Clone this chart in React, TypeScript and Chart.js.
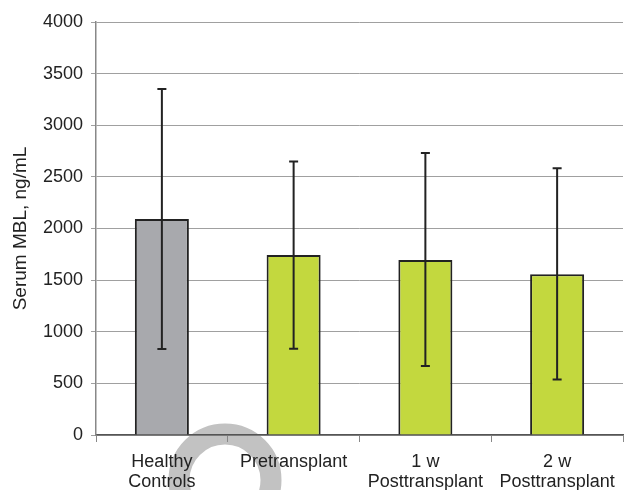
import React, { useEffect, useRef } from "react";
import { Chart, registerables } from "chart.js";

Chart.register(...registerables);

const categories: string[][] = [["Healthy", "Controls"], ["Pretransplant"], ["1 w", "Posttransplant"], ["2 w", "Posttransplant"]];
const means: number[] = [2092, 1743, 1695, 1557];
const errLow: number[] = [833, 835, 668, 538];
const errHigh: number[] = [3351, 2650, 2731, 2584];
const barColors: string[] = ["#a8a9ad", "#c3d83e", "#c3d83e", "#c3d83e"];
const yTicks: number[] = [0, 500, 1000, 1500, 2000, 2500, 3000, 3500, 4000];

const FONT = "'Liberation Sans', Arial, sans-serif";

const watermark = {
  id: "watermark",
  beforeDraw(chart: any) {
    const ctx = chart.ctx;
    ctx.save();
    ctx.strokeStyle = "#c2c2c2";
    ctx.lineWidth = 21;
    ctx.beginPath();
    ctx.arc(225, 480, 46, 0, Math.PI * 2);
    ctx.stroke();
    ctx.restore();
  },
};

const errorBars = {
  id: "errorBars",
  afterDatasetsDraw(chart: any) {
    const ctx = chart.ctx;
    const meta = chart.getDatasetMeta(0);
    const y = chart.scales.y;
    ctx.save();
    ctx.strokeStyle = "#222";
    ctx.lineWidth = 2;
    meta.data.forEach((bar: any, i: number) => {
      const x = bar.x;
      const yh = y.getPixelForValue(errHigh[i]);
      const yl = y.getPixelForValue(errLow[i]);
      ctx.beginPath();
      ctx.moveTo(x, yh);
      ctx.lineTo(x, yl);
      ctx.moveTo(x - 4.5, yh);
      ctx.lineTo(x + 4.5, yh);
      ctx.moveTo(x - 4.5, yl);
      ctx.lineTo(x + 4.5, yl);
      ctx.stroke();
    });
    ctx.restore();
  },
};

export default function App() {
  const ref = useRef<HTMLCanvasElement>(null);
  useEffect(() => {
    const chart = new Chart(ref.current!, {
      type: "bar",
      data: {
        labels: categories,
        datasets: [
          {
            data: means,
            backgroundColor: barColors,
            borderColor: "#222",
            borderWidth: 2,
            barPercentage: 0.41,
            categoryPercentage: 1,
          },
        ],
      },
      options: {
        animation: false,
        responsive: false,
        maintainAspectRatio: false,
        layout: { padding: { top: 22, right: 2, left: 0, bottom: 0 } },
        plugins: { legend: { display: false }, tooltip: { enabled: false } },
        scales: {
          x: {
            grid: { drawOnChartArea: false, drawTicks: true, tickLength: 7, color: "#888", offset: true },
            border: { color: "#555", width: 1.5 },
            ticks: { color: "#222", font: { family: FONT, size: 18, lineHeight: 1.1 }, padding: 10, maxRotation: 0 },
            afterFit(scale: any) {
              scale.height = 55;
            },
          },
          y: {
            min: 0,
            max: 4000,
            afterBuildTicks(scale: any) {
              scale.ticks = yTicks.map((v) => ({ value: v }));
            },
            grid: { color: "#a0a0a0", tickLength: 5, lineWidth: 1 },
            border: { color: "#888", width: 1.5 },
            ticks: { color: "#222", font: { family: FONT, size: 18 }, padding: 8, callback: (v: any) => String(v) },
            title: { display: true, text: "Serum MBL, ng/mL", color: "#222", font: { family: FONT, size: 19 }, padding: { top: 9, bottom: 0 } },
            afterFit(scale: any) {
              scale.width = 96;
            },
          },
        },
      },
      plugins: [watermark, errorBars],
    });
    return () => chart.destroy();
  }, []);
  return (
    <div style={{ position: "absolute", left: 0, top: 0, width: 625, height: 490, background: "#fff" }}>
      <canvas ref={ref} width={625} height={490} style={{ width: 625, height: 490 }} />
    </div>
  );
}
